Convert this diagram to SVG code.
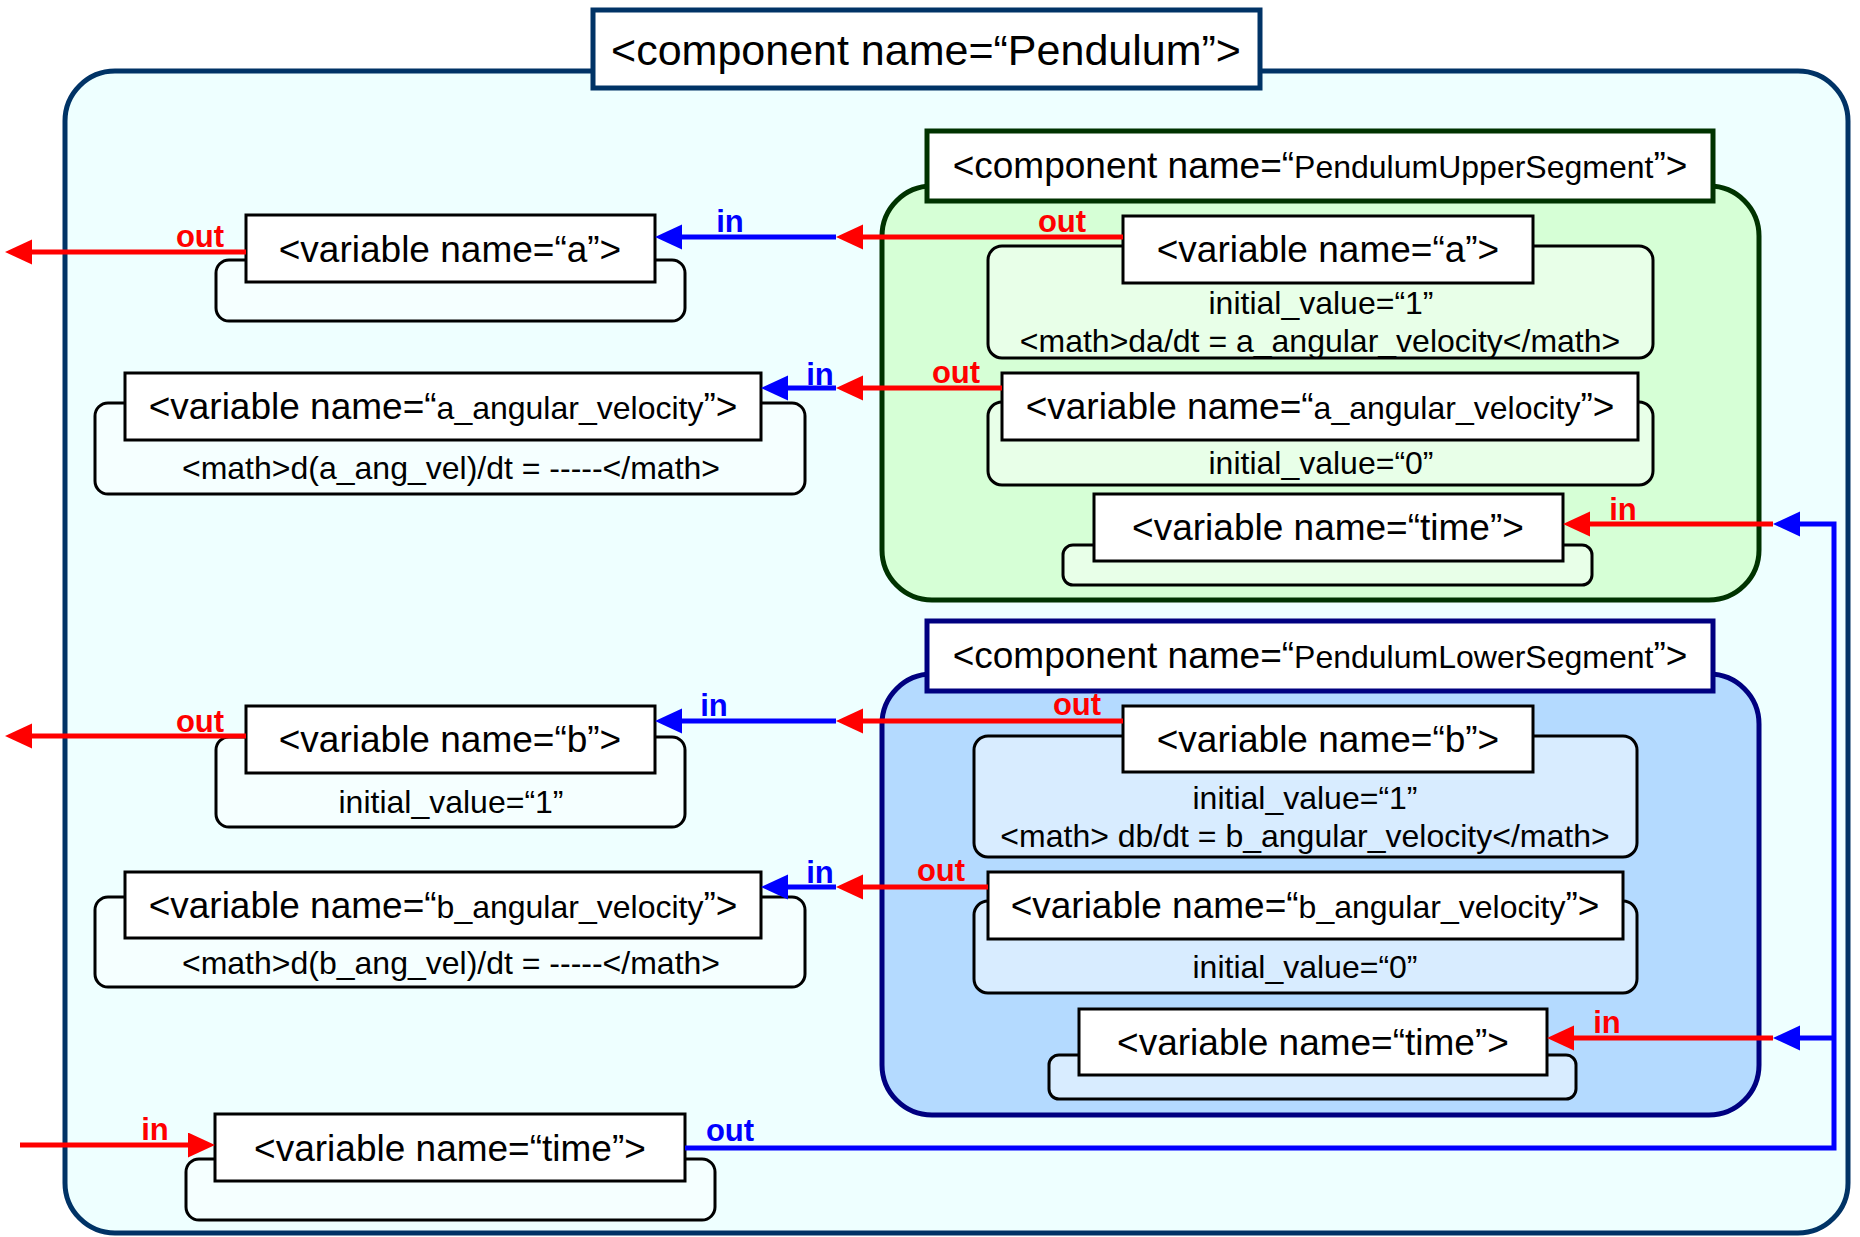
<svg xmlns="http://www.w3.org/2000/svg" width="1860" height="1237" viewBox="0 0 1860 1237">
<defs>
<style>
text{font-family:"Liberation Sans",Arial,sans-serif;fill:#000}
.big{font-size:37px}
.sm{font-size:32px}
.ttl{font-size:43px}
.lbl{font-size:31px;font-weight:bold}
.r{fill:#FF0000}
.b{fill:#0000FF}
.vbox{fill:#FFFFFF;stroke:#000;stroke-width:3}
.u0{fill:#F5FFFF;stroke:#000;stroke-width:3}
.ug{fill:#E8FFE8;stroke:#000;stroke-width:3}
.ub{fill:#D8ECFF;stroke:#000;stroke-width:3}
.cr{fill:none;stroke:#FF0000;stroke-width:5;marker-end:url(#aR)}
.cb{fill:none;stroke:#0000FF;stroke-width:5;marker-end:url(#aB)}
</style>
<marker id="aR" markerUnits="userSpaceOnUse" markerWidth="28" markerHeight="26" refX="0" refY="12.5" orient="auto"><path d="M0,0 L27,12.5 L0,25 z" fill="#FF0000"/></marker>
<marker id="aB" markerUnits="userSpaceOnUse" markerWidth="28" markerHeight="26" refX="0" refY="12.5" orient="auto"><path d="M0,0 L27,12.5 L0,25 z" fill="#0000FF"/></marker>
</defs>

<g id="pendulum">
<rect x="65" y="71" width="1783" height="1162" rx="50" fill="#EEFFFF" stroke="#003366" stroke-width="5"/>
<rect x="593" y="10" width="667" height="78" fill="#FFFFFF" stroke="#003366" stroke-width="5"/>
<text class="ttl" x="926" y="65" text-anchor="middle">&lt;component name=“Pendulum”&gt;</text>
</g>

<g id="upper-segment">
<rect x="882" y="186" width="877" height="414" rx="50" fill="#D6FFD6" stroke="#003300" stroke-width="5"/>
<rect x="927" y="131" width="786" height="70" fill="#FFFFFF" stroke="#003300" stroke-width="5"/>
<text x="1320" y="178" text-anchor="middle"><tspan class="big">&lt;component name=“</tspan><tspan class="sm">PendulumUpperSegment</tspan><tspan class="big">”&gt;</tspan></text>
</g>

<g id="lower-segment">
<rect x="882" y="674" width="877" height="441" rx="50" fill="#B4DAFF" stroke="#000080" stroke-width="5"/>
<rect x="927" y="621" width="786" height="70" fill="#FFFFFF" stroke="#000080" stroke-width="5"/>
<text x="1320" y="668" text-anchor="middle"><tspan class="big">&lt;component name=“</tspan><tspan class="sm">PendulumLowerSegment</tspan><tspan class="big">”&gt;</tspan></text>
</g>

<g id="var-a">
<rect class="u0" x="216" y="260" width="469" height="61" rx="13"/>
<rect class="vbox" x="246" y="215" width="409" height="67"/>
<text class="big" x="450" y="262" text-anchor="middle">&lt;variable name=“a”&gt;</text>
</g>

<g id="var-a-angular-velocity">
<rect class="u0" x="95" y="403" width="710" height="91" rx="13"/>
<rect class="vbox" x="125" y="373" width="636" height="67"/>
<text x="443" y="419" text-anchor="middle"><tspan class="big">&lt;variable name=“</tspan><tspan class="sm">a_angular_velocity</tspan><tspan class="big">”&gt;</tspan></text>
<text class="sm" x="451" y="479" text-anchor="middle">&lt;math&gt;d(a_ang_vel)/dt = -----&lt;/math&gt;</text>
</g>

<g id="var-b">
<rect class="u0" x="216" y="737" width="469" height="90" rx="13"/>
<rect class="vbox" x="246" y="706" width="409" height="67"/>
<text class="big" x="450" y="752" text-anchor="middle">&lt;variable name=“b”&gt;</text>
<text class="sm" x="451" y="813" text-anchor="middle">initial_value=“1”</text>
</g>

<g id="var-b-angular-velocity">
<rect class="u0" x="95" y="897" width="710" height="90" rx="13"/>
<rect class="vbox" x="125" y="872" width="636" height="66"/>
<text x="443" y="918" text-anchor="middle"><tspan class="big">&lt;variable name=“</tspan><tspan class="sm">b_angular_velocity</tspan><tspan class="big">”&gt;</tspan></text>
<text class="sm" x="451" y="974" text-anchor="middle">&lt;math&gt;d(b_ang_vel)/dt = -----&lt;/math&gt;</text>
</g>

<g id="var-time">
<rect class="u0" x="186" y="1159" width="529" height="61" rx="13"/>
<rect class="vbox" x="215" y="1114" width="470" height="67"/>
<text class="big" x="450" y="1161" text-anchor="middle">&lt;variable name=“time”&gt;</text>
</g>

<g id="upper-var-a">
<rect class="ug" x="988" y="246" width="665" height="112" rx="14"/>
<rect class="vbox" x="1123" y="216" width="410" height="67"/>
<text class="big" x="1328" y="262" text-anchor="middle">&lt;variable name=“a”&gt;</text>
<text class="sm" x="1321" y="314" text-anchor="middle">initial_value=“1”</text>
<text class="sm" x="1320" y="352" text-anchor="middle">&lt;math&gt;da/dt = a_angular_velocity&lt;/math&gt;</text>
</g>

<g id="upper-var-a-angular-velocity">
<rect class="ug" x="988" y="402" width="665" height="83" rx="14"/>
<rect class="vbox" x="1002" y="373" width="636" height="67"/>
<text x="1320" y="419" text-anchor="middle"><tspan class="big">&lt;variable name=“</tspan><tspan class="sm">a_angular_velocity</tspan><tspan class="big">”&gt;</tspan></text>
<text class="sm" x="1321" y="474" text-anchor="middle">initial_value=“0”</text>
</g>

<g id="upper-var-time">
<rect class="ug" x="1063" y="545" width="529" height="40" rx="10"/>
<rect class="vbox" x="1094" y="494" width="469" height="67"/>
<text class="big" x="1328" y="540" text-anchor="middle">&lt;variable name=“time”&gt;</text>
</g>

<g id="lower-var-b">
<rect class="ub" x="974" y="736" width="663" height="121" rx="14"/>
<rect class="vbox" x="1123" y="706" width="410" height="66"/>
<text class="big" x="1328" y="752" text-anchor="middle">&lt;variable name=“b”&gt;</text>
<text class="sm" x="1305" y="809" text-anchor="middle">initial_value=“1”</text>
<text class="sm" x="1305" y="847" text-anchor="middle">&lt;math&gt; db/dt = b_angular_velocity&lt;/math&gt;</text>
</g>

<g id="lower-var-b-angular-velocity">
<rect class="ub" x="974" y="901" width="663" height="92" rx="14"/>
<rect class="vbox" x="988" y="872" width="635" height="67"/>
<text x="1305" y="918" text-anchor="middle"><tspan class="big">&lt;variable name=“</tspan><tspan class="sm">b_angular_velocity</tspan><tspan class="big">”&gt;</tspan></text>
<text class="sm" x="1305" y="978" text-anchor="middle">initial_value=“0”</text>
</g>

<g id="lower-var-time">
<rect class="ub" x="1049" y="1055" width="527" height="44" rx="10"/>
<rect class="vbox" x="1079" y="1009" width="468" height="66"/>
<text class="big" x="1313" y="1055" text-anchor="middle">&lt;variable name=“time”&gt;</text>
</g>

<g id="connectors">
<path class="cr" d="M246,252 H32"/>
<path class="cr" d="M1123,237 H863"/>
<path class="cb" d="M836,237 H682"/>
<path class="cr" d="M1002,388 H863"/>
<path class="cb" d="M836,388 H788"/>
<path class="cr" d="M1773,524 H1590"/>
<path class="cb" d="M685,1148 H1834 V524 H1800"/>
<path class="cb" d="M1834,1038 H1800"/>
<path class="cr" d="M1123,721 H863"/>
<path class="cb" d="M836,721 H682"/>
<path class="cr" d="M988,887 H863"/>
<path class="cb" d="M836,887 H788"/>
<path class="cr" d="M1773,1038 H1574"/>
<path class="cr" d="M246,736 H32"/>
<path class="cr" d="M20,1145 H188"/>
<text class="lbl r" x="200" y="247" text-anchor="middle">out</text>
<text class="lbl b" x="730" y="232" text-anchor="middle">in</text>
<text class="lbl r" x="1062" y="232" text-anchor="middle">out</text>
<text class="lbl b" x="820" y="385" text-anchor="middle">in</text>
<text class="lbl r" x="956" y="383" text-anchor="middle">out</text>
<text class="lbl r" x="1623" y="520" text-anchor="middle">in</text>
<text class="lbl r" x="200" y="732" text-anchor="middle">out</text>
<text class="lbl b" x="714" y="716" text-anchor="middle">in</text>
<text class="lbl r" x="1077" y="715" text-anchor="middle">out</text>
<text class="lbl b" x="820" y="883" text-anchor="middle">in</text>
<text class="lbl r" x="941" y="881" text-anchor="middle">out</text>
<text class="lbl r" x="1607" y="1033" text-anchor="middle">in</text>
<text class="lbl r" x="155" y="1140" text-anchor="middle">in</text>
<text class="lbl b" x="730" y="1141" text-anchor="middle">out</text>
</g>
</svg>
